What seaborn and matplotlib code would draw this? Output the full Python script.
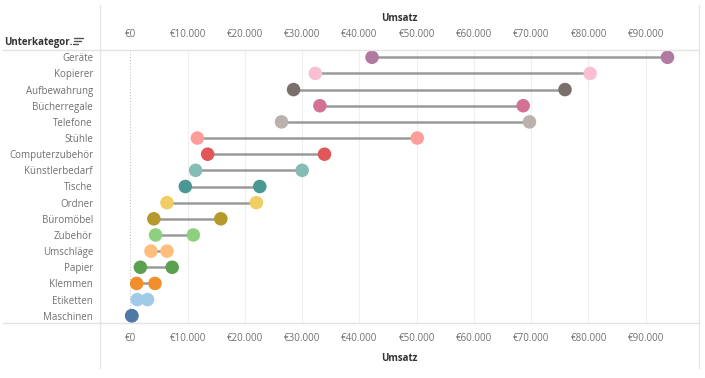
import pandas as pd
import seaborn as sns
import matplotlib.pyplot as plt
from matplotlib.lines import Line2D
from matplotlib.ticker import FuncFormatter

# Data: Umsatz range per Unterkategorie (min / max)
categories = ['Geräte', 'Kopierer', 'Aufbewahrung', 'Bücherregale', 'Telefone',
              'Stühle', 'Computerzubehör', 'Künstlerbedarf', 'Tische', 'Ordner',
              'Büromöbel', 'Zubehör', 'Umschläge', 'Papier', 'Klemmen',
              'Etiketten', 'Maschinen']
umsatz_min = [42200, 32300, 28500, 33100, 26400, 11700, 13500, 11400, 9600, 6400,
              4100, 4400, 3600, 1750, 1100, 1200, 250]
umsatz_max = [93800, 80300, 75900, 68600, 69700, 50100, 33900, 30000, 22600, 22000,
              15800, 11000, 6400, 7300, 4300, 3000, 250]
colors = ['#B07AA1', '#FABFD2', '#79706E', '#D37295', '#BAB0AC', '#FF9D9A',
          '#E15759', '#86BCB6', '#499894', '#F1CE63', '#B6992D', '#8CD17D',
          '#FFBE7D', '#59A14F', '#F28E2B', '#A0CBE8', '#4E79A7']

df = pd.DataFrame({'Unterkategorie': categories, 'min': umsatz_min, 'max': umsatz_max})
df_long = pd.melt(df, id_vars=['Unterkategorie'], value_vars=['min', 'max'],
                  value_name='Umsatz')
palette = dict(zip(categories, colors))

sns.set_style('white')
plt.rcParams['font.family'] = ['Open Sans', 'DejaVu Sans']

W, H = 705, 378
fig = plt.figure(figsize=(W / 100, H / 100), dpi=100)
x0, x1, y0, y1 = 100, 699, 50, 323
ax = fig.add_axes([x0 / W, 1 - y1 / H, (x1 - x0) / W, (y1 - y0) / H])

# connecting lines
ax.hlines(df['Unterkategorie'], df['min'], df['max'], color='#9a9a9a', lw=1.8, zorder=2)
sns.scatterplot(data=df_long, x='Umsatz', y='Unterkategorie', hue='Unterkategorie',
                palette=palette, s=95, linewidth=0, legend=False, ax=ax, zorder=3)

ax.set_xlim(-5300, 99300)
ax.set_ylim(16.45, -0.45)
for v in range(10000, 100000, 10000):
    ax.axvline(v, color='#efefef', lw=0.8, zorder=0)
ax.axvline(0, color='#bdbdbd', lw=0.7, ls=(0, (1, 2)), zorder=0)

fmt = FuncFormatter(lambda v, p: '€' + f'{int(v):,}'.replace(',', '.'))
ticks = list(range(0, 100000, 10000))
fs = 7
ax.set_xticks(ticks)
ax.xaxis.set_major_formatter(fmt)
ax.tick_params(axis='both', length=0, labelsize=fs, labelcolor='#707070')
ax.tick_params(axis='x', pad=7)
ax.tick_params(axis='y', pad=5)
ax.set_xlabel('Umsatz', fontsize=fs, fontweight='bold', color='#333333', labelpad=7)
ax.set_ylabel('')

top = ax.secondary_xaxis('top')
top.set_xticks(ticks)
top.xaxis.set_major_formatter(fmt)
top.tick_params(length=0, labelsize=fs, labelcolor='#707070', pad=7)
top.set_xlabel('Umsatz', fontsize=fs, fontweight='bold', color='#333333', labelpad=6)
for s in top.spines.values():
    s.set_visible(False)
for s in ax.spines.values():
    s.set_visible(False)

# frame lines in Tableau style
def fig_line(xa, ya, xb, yb, c='#e3e3e3', lw=1.0):
    fig.add_artist(Line2D([xa / W, xb / W], [1 - ya / H, 1 - yb / H], color=c, lw=lw))

fig_line(3, y0, x1, y0)
fig_line(3, y1, x1, y1)
fig_line(x0, 5, x0, 368, c='#e6e6e6')
fig_line(x1, 5, x1, 368, c='#e6e6e6')

fig.text(4 / W, 1 - 42 / H, 'Unterkategor..', fontsize=fs, fontweight='bold',
         color='#333333', va='center', ha='left')
# sort icon
for i, w in enumerate([9, 7, 4]):
    fig_line(74, 38 + i * 3, 74 + w, 38 + i * 3, c='#555555', lw=1.0)

fig.savefig('out.png', dpi=100)
